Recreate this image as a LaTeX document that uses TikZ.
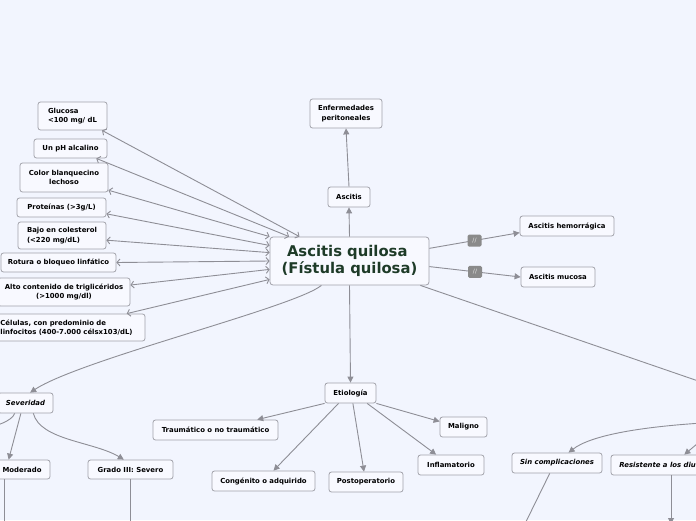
\documentclass[tikz,border=0pt]{standalone}
\usepackage{fontspec}
\setmainfont{DejaVu Sans}
\usetikzlibrary{arrows.meta}
\definecolor{bgc}{HTML}{F2F5FE}
\definecolor{edgec}{HTML}{8E8E96}
\definecolor{bordc}{HTML}{A2A2AA}
\definecolor{fillc}{HTML}{F8F9FF}
\definecolor{ctextc}{HTML}{1E3B28}
\definecolor{slashc}{HTML}{8A8A8A}
\tikzset{
  box/.style={draw=bordc, fill=fillc, rounded corners=2.5pt, line width=0.8pt, inner sep=0pt, align=center, text=black, font=\bfseries\fontsize{6.9}{9.5}\selectfont},
  itbox/.style={box, font=\bfseries\itshape\fontsize{6.9}{9.5}\selectfont},
  mainbox/.style={box, rounded corners=3pt, text=ctextc, font=\bfseries\fontsize{14.8}{17.7}\selectfont},
  slashbox/.style={fill=slashc, rounded corners=1.5pt, minimum width=14pt, minimum height=12pt, inner sep=0pt, text=white!80!slashc, font=\fontsize{6}{6}\selectfont},
  conn/.style={draw=edgec, line width=0.9pt, -{Triangle[length=6pt,width=6pt]}},
  dconn/.style={draw=edgec, line width=0.9pt, {Straight Barb[length=3pt,width=7pt]}-{Straight Barb[length=3pt,width=7pt]}},
}
\begin{document}
\begin{tikzpicture}[x=1pt,y=-1pt]
\useasboundingbox (0,0) rectangle (696,520);
\clip (0,0) rectangle (696,520);
\fill[bgc] (0,0) rectangle (696,520);

% central
\node[mainbox, minimum width=159pt, minimum height=48pt] (central) at (349.5,261) {Ascitis quilosa\rule{4.5pt}{0pt}\\(Fístula quilosa)};

% left nodes
\node[box, minimum width=69pt, minimum height=28pt, align=left] (glu) at (72.5,116) {Glucosa\\<100 mg/ dL};
\node[box, minimum width=73pt, minimum height=19pt] (ph) at (70.5,148.5) {Un pH alcalino};
\node[box, minimum width=88pt, minimum height=29pt] (color) at (64,177.5) {Color blanquecino\\lechoso};
\node[box, minimum width=89pt, minimum height=19pt] (prot) at (61.5,207.5) {Proteínas (>3g/L)};
\node[box, minimum width=88pt, minimum height=27pt, align=left] (bajo) at (62,235.5) {Bajo en colesterol\\(<220 mg/dL)};
\node[box, minimum width=115pt, minimum height=19pt] (rot) at (58.5,262.5) {Rotura o bloqueo linfático};
\node[box, minimum width=132pt, minimum height=28pt] (alto) at (64,292) {Alto contenido de triglicéridos\\(>1000 mg/dl)};
\node[box, minimum width=157pt, minimum height=27pt, align=left] (cel) at (66.5,327.5) {Células, con predominio de\\linfocitos (400-7.000 célsx103/dL)};

% top
\node[box, minimum width=42pt, minimum height=20pt] (asc) at (349,197) {Ascitis};
\node[box, minimum width=72pt, minimum height=29pt] (enf) at (346,113.5) {Enfermedades\\peritoneales};

% right
\node[box, minimum width=94pt, minimum height=20pt] (hem) at (567,226) {Ascitis hemorrágica};
\node[box, minimum width=74pt, minimum height=20pt] (muc) at (558,277) {Ascitis mucosa};

% etiologia
\node[box, minimum width=51pt, minimum height=20pt] (eti) at (350.5,393) {Etiología};
\node[box, minimum width=125pt, minimum height=20pt] (trau) at (215.5,430) {Traumático o no traumático};
\node[box, minimum width=103pt, minimum height=20pt] (cong) at (263.5,481) {Congénito o adquirido};
\node[box, minimum width=74pt, minimum height=20pt] (post) at (366,482) {Postoperatorio};
\node[box, minimum width=47pt, minimum height=20pt] (mal) at (463.5,427) {Maligno};
\node[box, minimum width=66pt, minimum height=20pt] (infl) at (451,465) {Inflamatorio};

% severidad
\node[itbox, minimum width=55pt, minimum height=20pt] (sev) at (25.5,403) {Severidad};
\node[box, minimum width=92pt, minimum height=19pt] (g2) at (4,469.5) {Grado II: Moderado};
\node[box, minimum width=85pt, minimum height=19pt] (g3) at (130.5,469.5) {Grado III: Severo};

% right bottom
\node[itbox, minimum width=90pt, minimum height=20pt] (sin) at (557,463) {Sin complicaciones};
\node[itbox, minimum width=120pt, minimum height=20pt] (res) at (671,465) {Resistente a los diuréticos};

% free ends
\coordinate (r3) at (720,388.5);
\coordinate (r1) at (720,422);
\coordinate (r2) at (710,433);
\coordinate (sevl) at (-15,428);
\coordinate (g2d) at (4,530);
\coordinate (g3d) at (130.5,530);
\coordinate (sind) at (517,540);
\coordinate (resd) at (671,524);

% left connectors
\draw[dconn] (glu.-26) -- (central.154);
\draw[dconn] (ph.-21) -- (central.158);
\draw[dconn] (color.-16) -- (central.north west);
\draw[dconn] (prot.-8) -- (central.169);
\draw[dconn] (bajo.-6) -- (central.174);
\draw[dconn] (rot.east) -- (central.180);
\draw[dconn] (alto.6) -- (central.186);
\draw[dconn] (cel.13) -- (central.193);

% top
\draw[conn] (central.north) -- (asc.south);
\draw[conn] (asc.north) -- (enf.south);

% right
\draw[conn] (central.9) -- node[slashbox]{//} (hem.188);
\draw[conn] (central.-4) -- node[slashbox]{//} (muc.west);
\draw[conn] (central.-19) -- (r3);

% etiologia
\draw[conn] (central.south) -- (eti.north);
\draw[conn] (eti.south west) -- (trau.14);
\draw[conn] (eti.221) -- (cong.46);
\draw[conn] (eti.-77) -- (post.101);
\draw[conn] (eti.-32) -- (infl.145);
\draw[conn] (eti.south east) -- (mal.167);

% severidad
\draw[conn] (central.221) .. controls +(-27,22) and +(50,-33) .. (sev.66);
\draw[conn] (sev.-114) -- (g2.65);
\draw[conn] (sev.-53) .. controls +(7,27) and +(-30,-18) .. (g3.124);
\draw[conn] (sev.-136) .. controls +(-3,8) and +(10,-2) .. (sevl);
\draw[conn] (g2.south) -- (g2d);
\draw[conn] (g3.south) -- (g3d);

% right bottom
\draw[conn] (r1) .. controls +(-80,4) and +(22,-17) .. (sin.42);
\draw[conn] (r2) -- (res.38);
\draw[conn] (sin.-125) -- (sind);
\draw[conn] (res.south) -- (resd);
\end{tikzpicture}
\end{document}
